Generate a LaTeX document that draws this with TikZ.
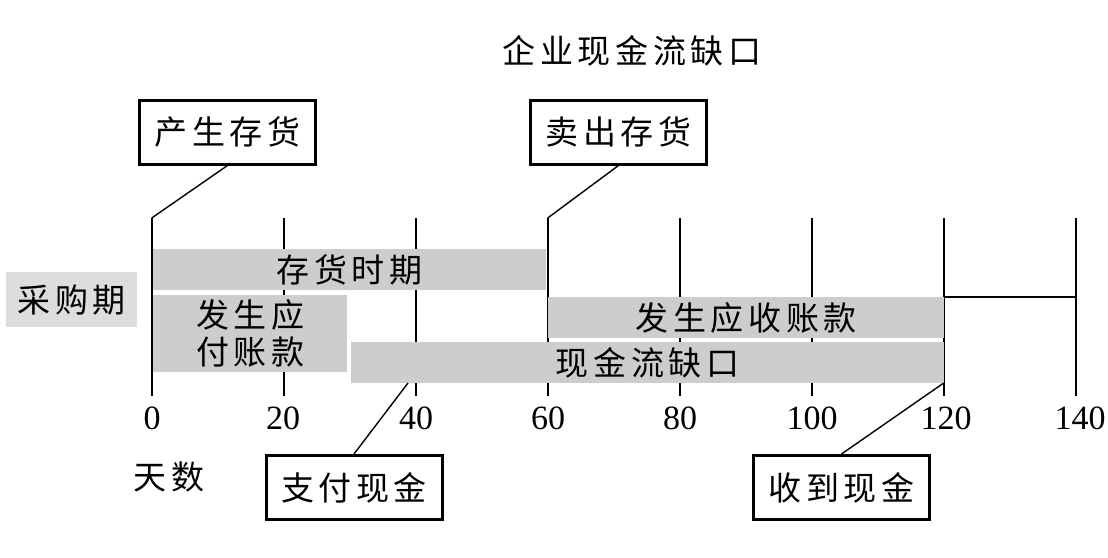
\documentclass[tikz,border=0pt]{standalone}
\usepackage{fontspec}
\setmainfont{Liberation Serif}
\newfontfamily\cjk{Noto Sans CJK SC}[LetterSpace=14]
\definecolor{barcol}{HTML}{CDCDCD}
\definecolor{bgcol}{HTML}{DDDDDD}
\begin{document}
\begin{tikzpicture}[x=1pt,y=-1pt,
  lbl/.style={font=\cjk\fontsize{33}{37}\selectfont, inner sep=0pt},
  box/.style={draw, line width=3pt, minimum width=176pt, minimum height=64pt, inner sep=0pt, font=\cjk\fontsize{33}{37}\selectfont},
  bar/.style={fill=barcol, draw=none, anchor=north west, inner sep=0pt, font=\cjk\fontsize{33}{37}\selectfont, align=center},
  tickline/.style={line width=1.6pt},
  conn/.style={line width=1.4pt},
  num/.style={font=\fontsize{34}{36}\selectfont, inner sep=0pt}]
\useasboundingbox (0,0) rectangle (1108,557);
% tick lines
\foreach \d in {0,20,...,140}{
  \coordinate (top\d) at ({151.7+6.6*\d},218);
  \coordinate (bot\d) at ({151.7+6.6*\d},396);
  \draw[tickline] (top\d) -- (bot\d);
}
\foreach \d/\xx in {0/152,20/283,40/416,60/548,80/680,100/812,120/946,140/1080}{
  \node[num] (n\d) at (\xx,418) {\d};
}
% bracket
\coordinate (br120) at (943.7,297);
\coordinate (br140) at (1075.7,297);
\draw[tickline] (br120) -- (br140);
% bars
\node[bar, minimum width=393pt, minimum height=41pt] (inv) at (153,249) {存货时期};
\node[bar, minimum width=194pt, minimum height=77pt] (ap) at (153,295) {发生应\\付账款};
\node[bar, minimum width=396pt, minimum height=41pt] (ar) at (548,297) {发生应收账款};
\node[bar, minimum width=593pt, minimum height=41pt] (gap) at (351,342) {现金流缺口};
\node[bar, fill=bgcol, minimum width=131pt, minimum height=55pt] (cg) at (6,272) {采购期};
% labels
\node[lbl] (title) at (632,51) {企业现金流缺口};
\node[lbl] (days) at (169,477) {天数};
% boxes
\node[box] (b1) at (227.5,132) {产生存货};
\node[box] (b2) at (618.5,132) {卖出存货};
\node[box] (b3) at (354,487.5) {支付现金};
\node[box] (b4) at (841.5,487.5) {收到现金};
% connectors
\coordinate (c40) at (408,383);
\coordinate (c120) at (943.7,383);
\draw[conn] (b1.south) -- (top0);
\draw[conn] (b2.south) -- (top60);
\draw[conn] (b3.north) -- (c40);
\draw[conn] (b4.north) -- (c120);
\end{tikzpicture}
\end{document}
